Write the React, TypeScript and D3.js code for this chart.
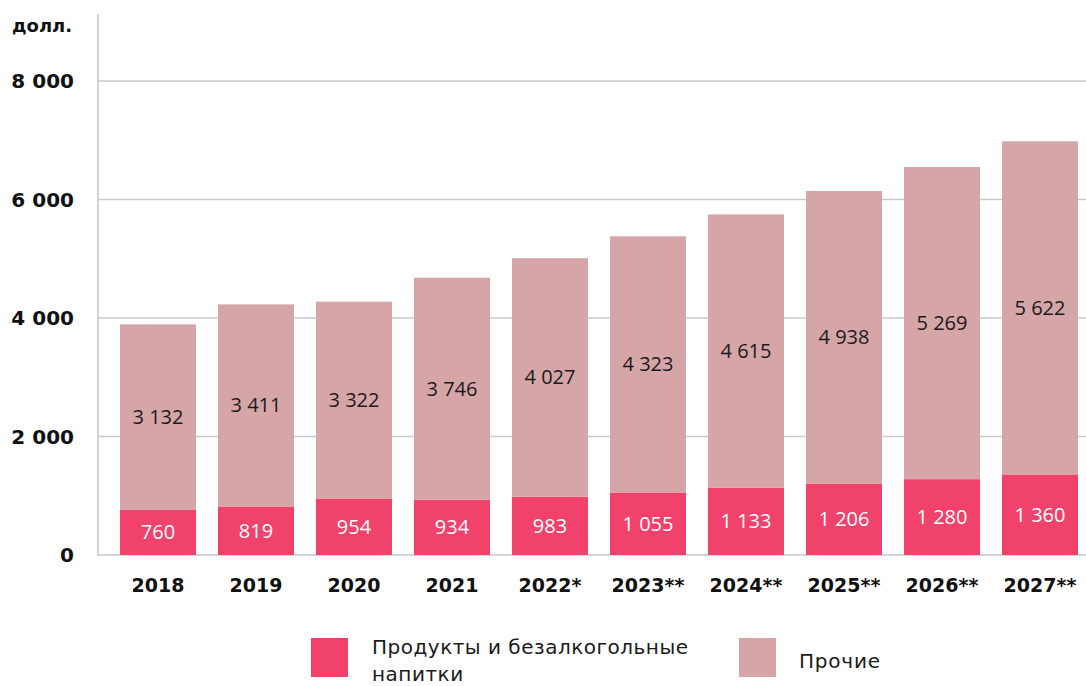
import React from "react";
import * as d3 from "d3";

const years = ["2018", "2019", "2020", "2021", "2022*", "2023**", "2024**", "2025**", "2026**", "2027**"];
const food = [760, 819, 954, 934, 983, 1055, 1133, 1206, 1280, 1360];
const other = [3132, 3411, 3322, 3746, 4027, 4323, 4615, 4938, 5269, 5622];
const yTicks = [0, 2000, 4000, 6000, 8000];
const unitLabel = "долл.";
const legendFood = ["Продукты и безалкогольные", "напитки"];
const legendOther = "Прочие";

const W = 1086;
const H = 686;
const FONT = "'Open Sans', 'DejaVu Sans', sans-serif";
const BOLD = "'DejaVu Sans', sans-serif";
const C_FOOD = "#F0426A";
const C_OTHER = "#D5A5A8";
const GRID = "#c9c9c9";

const fmt = (v: number) => {
  const s = String(Math.round(v));
  return s.replace(/\B(?=(\d{3})+(?!\d))/g, " ");
};

export default function App() {
  const x = d3
    .scaleBand<string>()
    .domain(years)
    .range([109, 1089])
    .paddingInner(22 / 98)
    .paddingOuter(11 / 98);
  const y = d3.scaleLinear().domain([0, 8000]).range([555, 81]);
  const bw = x.bandwidth();

  return (
    <svg width={W} height={H} style={{ position: "absolute", left: 0, top: 0, background: "#fff" }}>
      <text x={12} y={32} fontFamily={BOLD} fontWeight={700} fontSize={18} fill="#111">
        {unitLabel}
      </text>
      {yTicks.map((t) => (
        <g key={t}>
          <line x1={98} x2={W} y1={y(t)} y2={y(t)} stroke={GRID} strokeWidth={1.6} />
          <text
            x={74}
            y={y(t)}
            dy="0.36em"
            textAnchor="end"
            fontFamily={BOLD}
            fontWeight={700}
            fontSize={20}
            fill="#111"
          >
            {fmt(t)}
          </text>
        </g>
      ))}
      <line x1={98} x2={98} y1={14} y2={556} stroke={GRID} strokeWidth={1.6} />
      {years.map((yr, i) => {
        const x0 = x(yr)!;
        const cx = x0 + bw / 2;
        const f = food[i];
        const o = other[i];
        return (
          <g key={yr}>
            <rect x={x0} y={y(f)} width={bw} height={y(0) - y(f)} fill={C_FOOD} />
            <rect x={x0} y={y(f + o)} width={bw} height={y(f) - y(f + o)} fill={C_OTHER} />
            <text
              x={cx}
              y={(y(0) + y(f)) / 2}
              dy="0.35em"
              textAnchor="middle"
              fontFamily={FONT}
              fontSize={20}
              fill="#fff"
            >
              {fmt(f)}
            </text>
            <text
              x={cx}
              y={(y(f) + y(f + o)) / 2}
              dy="0.35em"
              textAnchor="middle"
              fontFamily={FONT}
              fontSize={20}
              fill="#1a1a1a"
            >
              {fmt(o)}
            </text>
            <text
              x={cx}
              y={585}
              dy="0.36em"
              textAnchor="middle"
              fontFamily={BOLD}
              fontWeight={700}
              fontSize={19}
              fill="#111"
            >
              {yr}
            </text>
          </g>
        );
      })}
      <rect x={311} y={638} width={37} height={39} fill={C_FOOD} />
      <text x={372} y={654} fontFamily={BOLD} fontSize={20} letterSpacing={0.5} fill="#1a1a1a">
        {legendFood[0]}
      </text>
      <text x={372} y={681} fontFamily={BOLD} fontSize={20} letterSpacing={0.5} fill="#1a1a1a">
        {legendFood[1]}
      </text>
      <rect x={739} y={638} width={37} height={39} fill={C_OTHER} />
      <text x={799} y={661} dy="0.35em" fontFamily={BOLD} fontSize={20} letterSpacing={0.8} fill="#1a1a1a">
        {legendOther}
      </text>
    </svg>
  );
}
